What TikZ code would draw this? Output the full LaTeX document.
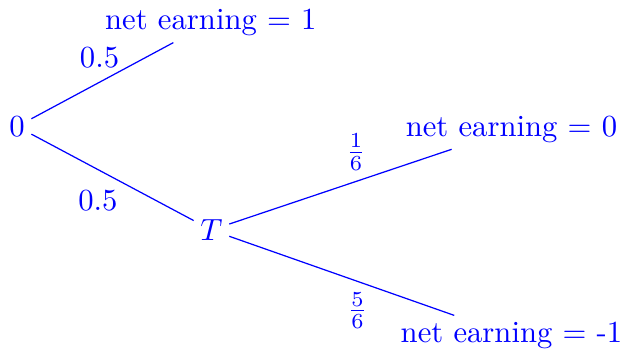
\documentclass[tikz,border=0pt]{standalone}
\usepackage{tikz}
\usetikzlibrary{positioning}

\begin{document}
\begin{tikzpicture}[
    state/.style={text=blue, inner sep=2pt},
    branch/.style={draw=blue, line width=0.4pt},
    prob/.style={text=blue}
  ]
    \useasboundingbox (0,0) rectangle (7.153,-4.013);
    % Root and chance node
    \node[state] (start) at (0.195,-1.45) {0};
    \node[state] (toss) at (2.424,-2.637) {$T$};
    
    % Leaves
    \node[state] (win) at (2.417,-0.258) {net earning = 1};
    \node[state] (even) at (5.863,-1.481) {net earning = 0};
    \node[state] (lose) at (5.863,-3.846) {net earning = -1};
    
    % Branches
    \draw[branch] (start) -- node[prob, pos=0.48, above=1pt] {0.5} (win);
    \draw[branch] (start) -- node[prob, pos=0.41, below=3pt] {0.5} (toss);
    \draw[branch] (toss) -- node[prob, pos=0.57, above] {$\frac{1}{6}$} (even);
    \draw[branch] (toss) -- node[prob, pos=0.57, below] {$\frac{5}{6}$} (lose);

  \end{tikzpicture}
\end{document}
